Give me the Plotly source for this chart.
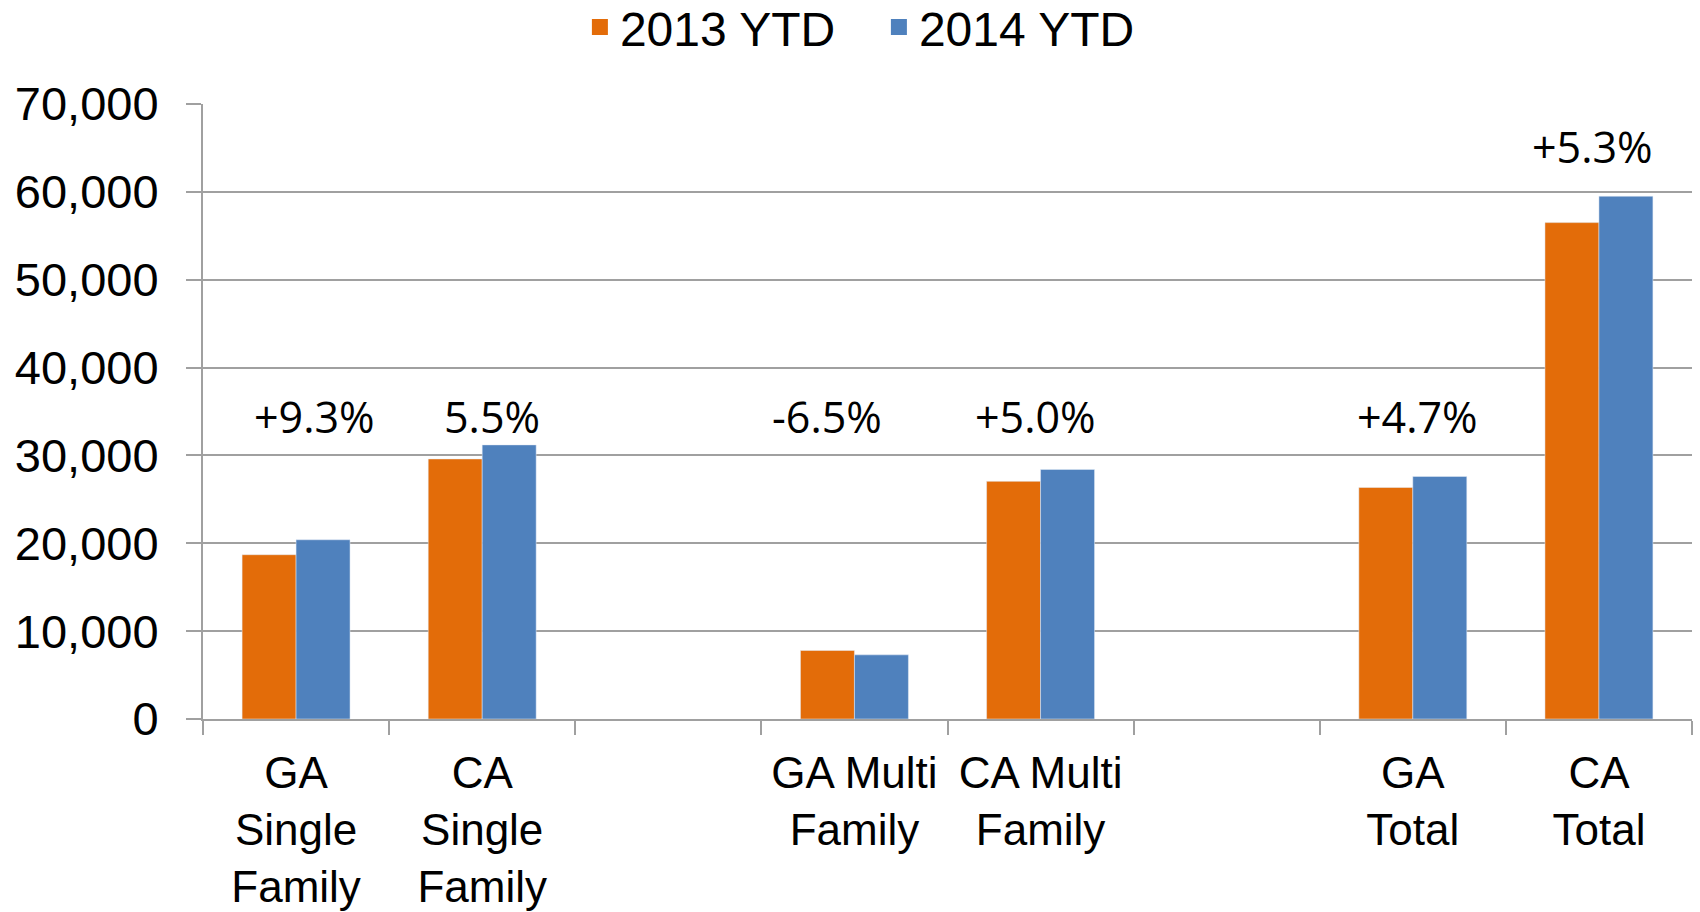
import plotly.graph_objects as go

categories = ["GA<br>Single<br>Family", "CA<br>Single<br>Family", " ",
              "GA Multi<br>Family", "CA Multi<br>Family", "  ",
              "GA<br>Total", "CA<br>Total"]
series_names = ["2013 YTD", "2014 YTD"]
ytd_2013 = [18700, 29600, None, 7800, 27050, None, 26350, 56500]
ytd_2014 = [20400, 31200, None, 7300, 28400, None, 27600, 59500]
pct_labels = ["+9.3%", "5.5%", "", "-6.5%", "+5.0%", "", "+4.7%", "+5.3%"]
pct_y = [34400, 34400, None, 34400, 34400, None, 34400, 65200]
pct_xshift = [18, 10, 0, -27, -5, 0, 5, -6]
y_ticks = [0, 10000, 20000, 30000, 40000, 50000, 60000, 70000]

ORANGE = "#E36C09"
BLUE = "#4F81BD"
GRID = "#A0A0A0"
colors = [ORANGE, BLUE]

fig = go.Figure()
for name, vals, col in zip(series_names, [ytd_2013, ytd_2014], colors):
    fig.add_trace(go.Bar(x=categories, y=vals, name=name, marker_color=col,
                         showlegend=False, legendgroup=name))
# legend entries with larger square symbols
for name, col in zip(series_names, colors):
    fig.add_trace(go.Scatter(x=[None], y=[None], mode="markers", name=name,
                             legendgroup=name,
                             marker=dict(symbol="square", size=26, color=col)))

for c, t, yv, xs in zip(categories, pct_labels, pct_y, pct_xshift):
    if t:
        fig.add_annotation(x=c, y=yv, text=t, showarrow=False, xshift=xs,
                           font=dict(family="Open Sans", size=43, color="#000000"))

fig.update_layout(
    width=1700, height=912,
    paper_bgcolor="white", plot_bgcolor="white",
    margin=dict(l=203, r=8, t=104, b=193),
    barmode="group", bargap=0.42, bargroupgap=0,
    font=dict(family="Liberation Sans, Arial", size=47, color="#000000"),
    legend=dict(orientation="h", xref="container", yref="container",
                x=0.517, y=0.970, xanchor="center", yanchor="middle",
                font=dict(size=48), itemwidth=30, traceorder="normal",
                itemsizing="trace", entrywidth=254),
    xaxis=dict(type="category", categoryorder="array", categoryarray=categories,
               showline=True, linecolor=GRID, linewidth=2, tickangle=0,
               ticks="outside", tickson="boundaries", ticklen=14, tickcolor=GRID,
               tickwidth=1.5, showgrid=False, ticklabelstandoff=14,
               tickfont=dict(size=44), automargin=False),
    yaxis=dict(range=[0, 70000], tickvals=y_ticks, tickformat=",d",
               showline=True, linecolor=GRID, linewidth=2,
               ticks="outside", ticklen=15, tickcolor=GRID, tickwidth=1.5,
               showgrid=True, gridcolor=GRID, gridwidth=1.5,
               zeroline=False, ticklabelstandoff=18, automargin=False),
)

fig.write_html("out.html", config={"displayModeBar": False},
               post_script="document.body.style.margin='0';document.body.style.overflow='hidden';")
